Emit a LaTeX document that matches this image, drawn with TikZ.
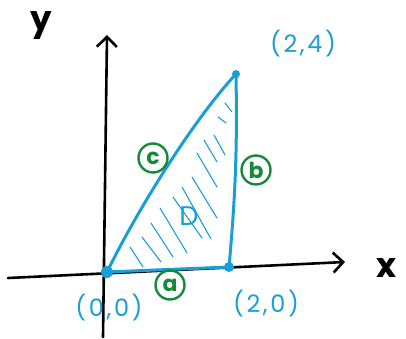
\documentclass[tikz,border=0pt]{standalone}
\usepackage{fontspec}
\setmainfont{Poppins}
\usetikzlibrary{arrows.meta}
\definecolor{cy}{HTML}{1A9ED6}
\definecolor{gr}{HTML}{178A3A}
\begin{document}
\begin{tikzpicture}[x=1pt,y=-1pt,
  axis/.style={line width=2.6pt,line cap=round,-{Straight Barb[length=10pt,width=20pt,line width=2.6pt]}},
  edge/.style={cy,line width=3pt,line cap=round},
  hatch/.style={cy,line width=1.1pt,line cap=round},
  dot/.style={circle,fill=cy,inner sep=0pt,minimum size=#1},
  lbl/.style={cy,font=\fontsize{24}{24}\selectfont\addfontfeatures{LetterSpace=11}},
  axl/.style={font=\fontsize{34}{34}\selectfont\bfseries},
  circ/.style={gr,draw=gr,circle,line width=2.4pt,inner sep=1pt,minimum size=29pt,font=\fontsize{22}{22}\selectfont\bfseries}]
\useasboundingbox (0,0) rectangle (406,339);
% axes
\coordinate (xs) at (8,278);
\coordinate (xe) at (345,262);
\coordinate (ys) at (103,337);
\coordinate (ye) at (107,35);
\draw[axis] (xs) -- (xe);
\draw[axis] (ys) -- (ye);
\node[axl] (xl) at (386,268) {x};
\node[axl] (yl) at (41,26) {y};
% vertices
\node[dot=12pt] (O) at (107,272) {};
\node[dot=10pt] (A) at (229,267) {};
\node[dot=8pt] (B) at (236,74) {};
% hatching
\foreach \a/\b/\c/\d in {225/103/232/112, 218/117/226/123, 214/135/225/155, 204/140/217/162,
  197/153/217/187, 192/177/217/218, 182/187/211/239, 173/197/202/238,
  160/208/187/253, 151/223/173/257, 142/237/161/262, 130/247/143/267}
  \draw[hatch] (\a,\b) -- (\c,\d);
% edges
\draw[edge] (O.center) -- (A.center);
\draw[edge] (B.center) to[bend left=3] (A.center);
\draw[edge] (O.center) .. controls (140,205) and (195,118) .. (B.center);
% labels
\node[lbl] (l24) at (303,44) {(2,4)};
\node[lbl] (l00) at (109,308) {(0,0)};
\node[lbl] (l20) at (266,304) {(2,0)};
\node[cy,font=\fontsize{27}{27}\selectfont] (D) at (189,216) {D};
\node[circ] (ca) at (170,285) {a};
\node[circ] (cb) at (256,170) {b};
\node[circ] (cc) at (153,158) {c};
\end{tikzpicture}
\end{document}
